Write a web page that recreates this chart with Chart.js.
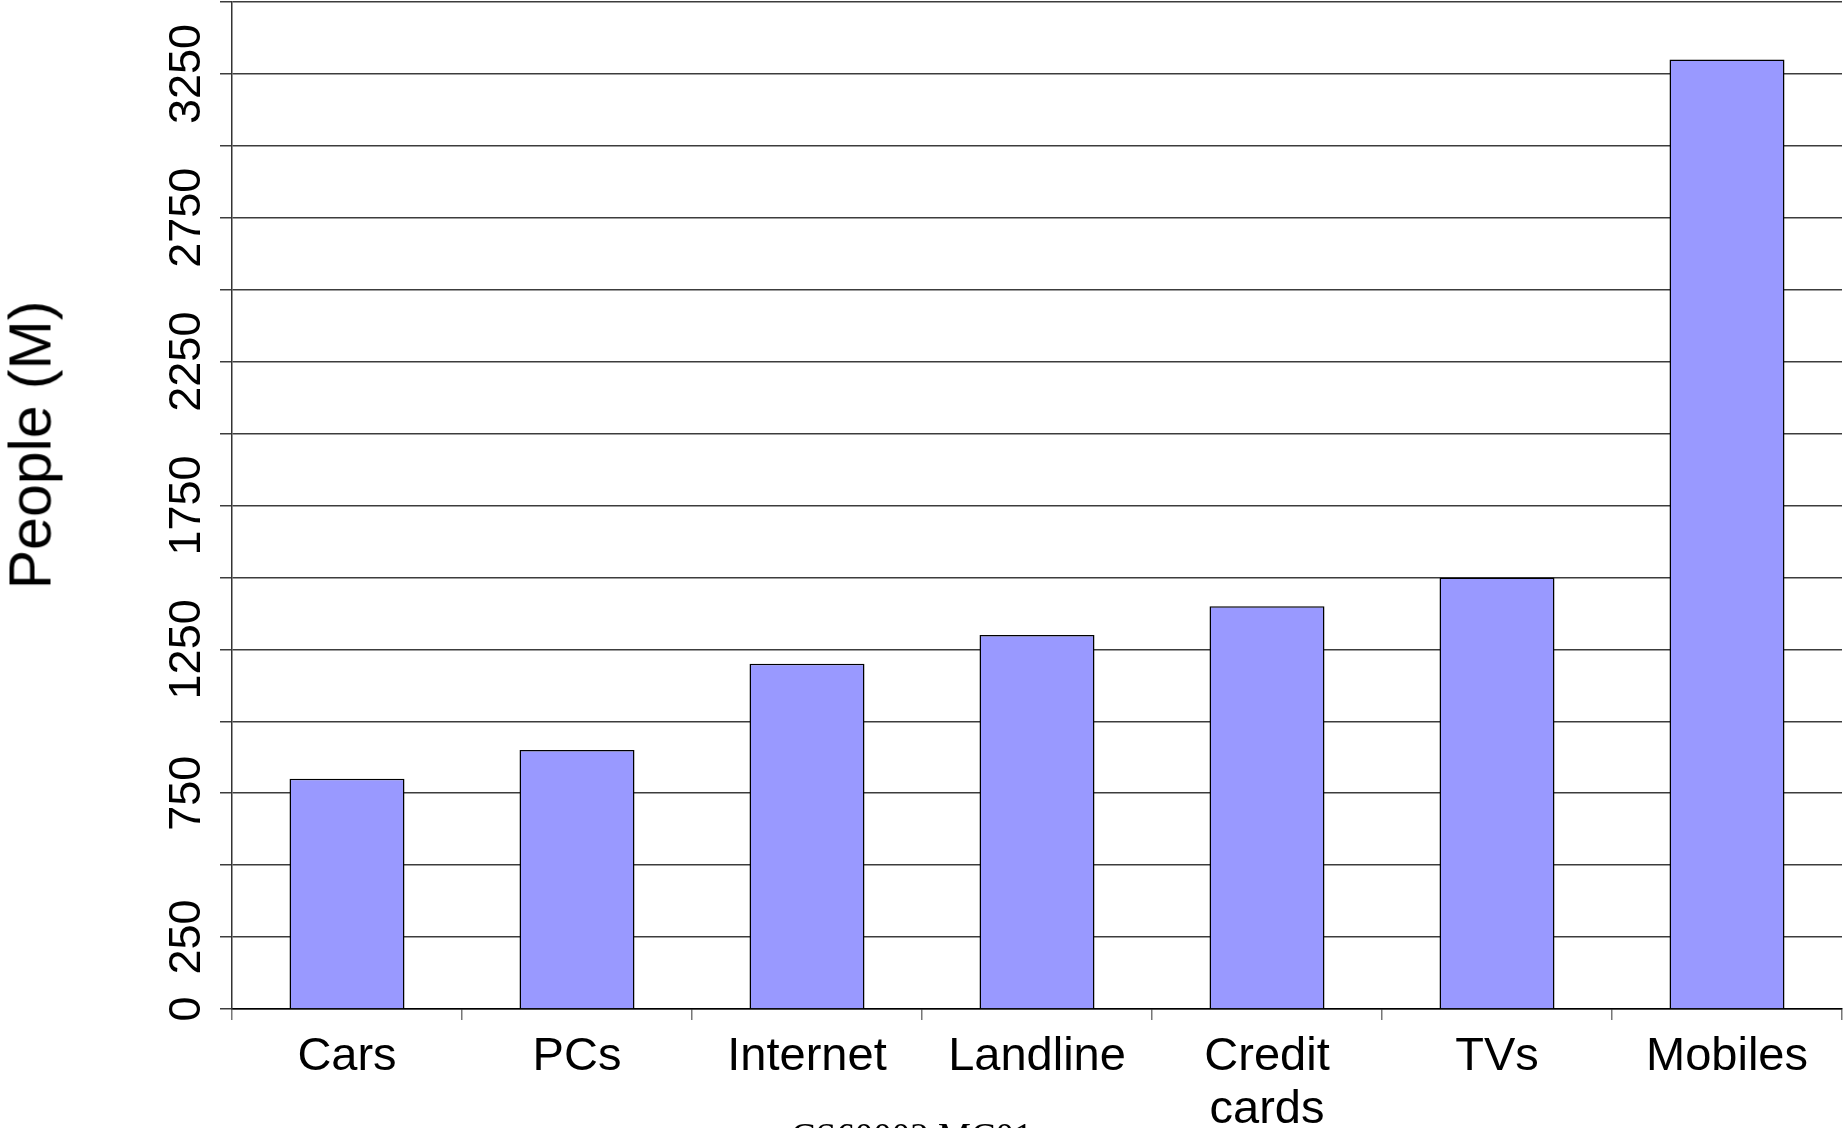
<!DOCTYPE html>
<html>
<head>
<meta charset="utf-8">
<script src="https://cdn.jsdelivr.net/npm/chart.js@4/dist/chart.umd.min.js"></script>
<style>
  html, body { margin: 0; padding: 0; background: #fff; overflow: hidden; width: 1846px; height: 1128px; }
  #wrap { position: relative; width: 1846px; height: 1128px; }
  canvas { position: absolute; left: 0; top: 0; }
  #ytitle {
    position: absolute; left: 31px; top: 445px;
    transform: translate(-50%, -50%) rotate(-90deg);
    font-family: "Liberation Sans", Arial, sans-serif; font-size: 59px; line-height: 1;
    white-space: nowrap; color: #000;
  }
  #footer {
    position: absolute; left: 791px; top: 1118px;
    font-family: "Liberation Serif", "Times New Roman", serif; font-size: 37px; line-height: 1;
    white-space: nowrap; color: #000;
  }
</style>
</head>
<body>
<div id="wrap">
  <canvas id="c" width="1846" height="1128"></canvas>
  <div id="ytitle">People (M)</div>
  <div id="footer">CS60002 MC01</div>
</div>
<script>
const categories = ["Cars", "PCs", "Internet", "Landline", ["Credit", "cards"], "TVs", "Mobiles"];
const peopleMillions = [800, 900, 1200, 1300, 1400, 1500, 3300];
const yLabeledTicks = [0, 250, 750, 1250, 1750, 2250, 2750, 3250];
const yMin = 0, yMax = 3500, yStep = 250;

const FONT = "'Liberation Sans', Arial, sans-serif";

new Chart(document.getElementById('c'), {
  type: 'bar',
  data: {
    labels: categories,
    datasets: [{
      data: peopleMillions,
      backgroundColor: '#9999FF',
      borderColor: '#000000',
      borderWidth: 1.5,
      barPercentage: 0.5,
      categoryPercentage: 1.0
    }]
  },
  options: {
    responsive: false,
    animation: false,
    devicePixelRatio: 1,
    layout: { padding: { top: 2, right: 4, left: 0, bottom: 0 } },
    plugins: { legend: { display: false }, tooltip: { enabled: false }, title: { display: false } },
    scales: {
      x: {
        offset: true,
        grid: { drawOnChartArea: false, drawTicks: true, tickLength: 11, color: '#777777', lineWidth: 1.5, offset: true },
        border: { display: true, color: '#000000', width: 1.5 },
        ticks: { color: '#000', font: { family: FONT, size: 47, lineHeight: 1.12 }, padding: 11, maxRotation: 0, minRotation: 0, autoSkip: false },
        afterFit: (s) => { s.height = 119; s.paddingLeft = 0; s.paddingRight = 0; }
      },
      y: {
        min: yMin, max: yMax,
        grid: { color: '#3c3c3c', lineWidth: 1.5, drawTicks: true, tickLength: 12 },
        border: { display: true, color: '#333333', width: 1.5 },
        ticks: {
          stepSize: yStep,
          autoSkip: false,
          minRotation: 90, maxRotation: 90,
          crossAlign: 'center',
          padding: -18,
          color: '#000',
          font: { family: FONT, size: 45 },
          callback: (v) => yLabeledTicks.includes(v) ? String(v) : ''
        },
        afterFit: (s) => { s.width = 232; s.paddingTop = 0; s.paddingBottom = 0; }
      }
    }
  }
});
</script>
</body>
</html>
